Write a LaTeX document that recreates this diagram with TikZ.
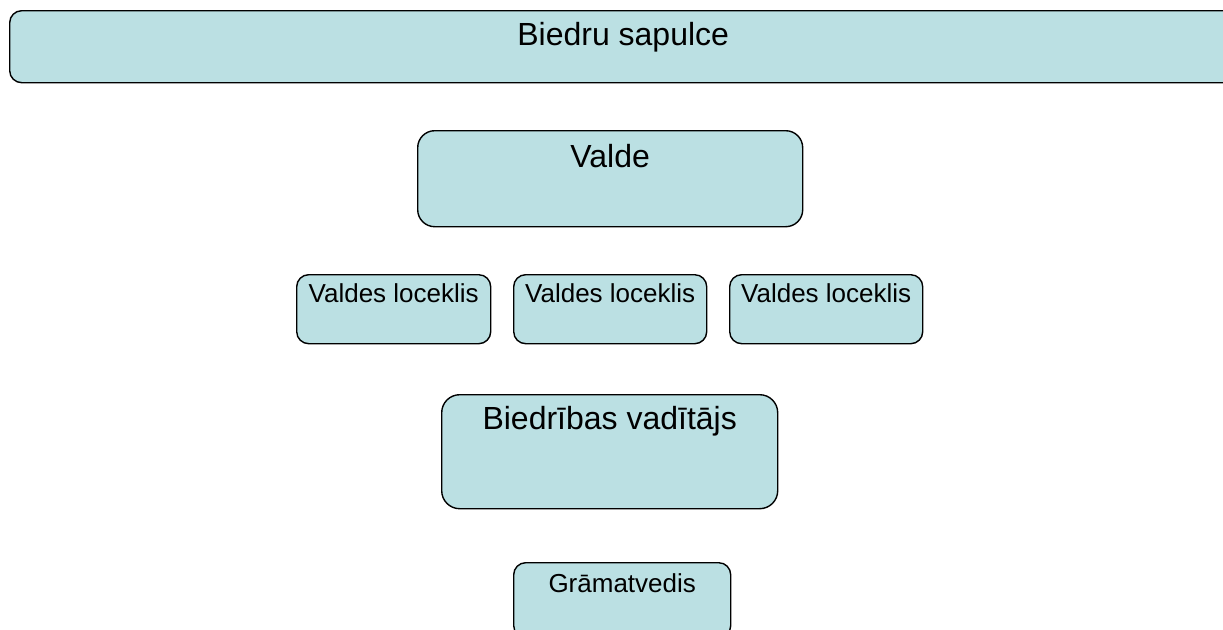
\documentclass[tikz,border=0pt]{standalone}
\usepackage{fontspec}
\setmainfont{Liberation Sans}
\definecolor{boxfill}{HTML}{BBE0E3}
\begin{document}
\begin{tikzpicture}[x=1pt,y=-1pt,
  orgbox/.style={draw=black, line width=1.4pt, fill=boxfill, inner sep=0pt,
    anchor=north west, align=center},
  bigtext/.style={font=\fontsize{32}{38}\selectfont},
  smalltext/.style={font=\fontsize{26}{31}\selectfont}]
\useasboundingbox (0,0) rectangle (1223,629);
\node[orgbox, bigtext, rounded corners=12pt, minimum width=1227pt, text height=35pt, text depth=37pt] (sapulce) at (9,10) {Biedru sapulce};
\node[orgbox, bigtext, rounded corners=17pt, minimum width=385pt, text height=37pt, text depth=59pt] (valde) at (417,130) {Valde};
\node[orgbox, smalltext, rounded corners=12pt, minimum width=194pt, text height=28pt, text depth=41pt] (loc1) at (296,274) {Valdes loceklis};
\node[orgbox, smalltext, rounded corners=12pt, minimum width=193pt, text height=28pt, text depth=41pt] (loc2) at (513,274) {Valdes loceklis};
\node[orgbox, smalltext, rounded corners=12pt, minimum width=193pt, text height=28pt, text depth=41pt] (loc3) at (729,274) {Valdes loceklis};
\node[orgbox, bigtext, rounded corners=18pt, minimum width=336pt, text height=35pt, text depth=79pt] (vaditajs) at (441,394) {Biedrības vadītājs};
\node[orgbox, smalltext, rounded corners=12pt, minimum width=217pt, text height=30pt, text depth=45pt] (gramatvedis) at (513,562) {Grāmatvedis};
\end{tikzpicture}
\end{document}
